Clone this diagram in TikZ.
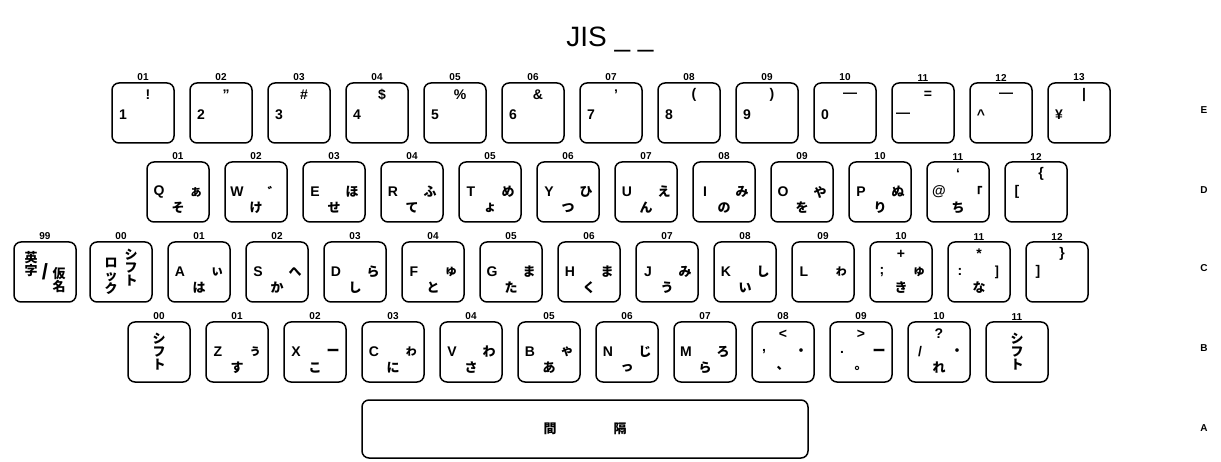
\documentclass[tikz,border=0pt]{standalone}
\usepackage{fontspec}
\setmainfont{Liberation Sans}
\newfontfamily\jp{Noto Sans CJK JP}
\usepackage{tikz}

\tikzset{
  keycap/.style={draw, line width=1.5pt, rounded corners=7pt, minimum width=62pt, minimum height=60pt, inner sep=0pt},
  keynum/.style={font=\bfseries\fontsize{10}{10}\selectfont, inner sep=1pt, above},
  lat/.style={font=\bfseries\fontsize{14}{14}\selectfont, inner sep=0pt},
  kana/.style={font=\jp\bfseries\fontsize{13}{13}\selectfont, inner sep=0pt},
  rowname/.style={font=\bfseries\fontsize{10}{10}\selectfont},
}

\begin{document}
\begin{tikzpicture}[x=1pt, y=-1pt]
\useasboundingbox (0,0) rectangle (1221,462);

\node [font=\fontsize{28}{28}\selectfont] (title) at (610,40) {JIS \_ \_};

% row E
\foreach \n/\l/\s [count=\i] in {01/1/!, 02/2/", 03/3/\#, 04/4/\$, 05/5/\%, 06/6/\&, 07/7/', 08/8/(, 09/9/), 10/0/—, 11/—/=, 12/\^{}/—, 13/¥/|} {
  \node [keycap] (E\n) at ({143+78*(\i-1)}, 113) {};
  \node [keynum] at (E\n.north) {\n};
  \node [lat] at ([xshift=-20pt, yshift=-2pt]E\n.center) {\l};
  \node [lat] at ([xshift=5pt, yshift=18pt]E\n.center) {\s};
}

% row D
\foreach \n/\l/\r/\b [count=\i] in {01/Q/ぁ/そ, 02/W/゛/け, 03/E/ほ/せ, 04/R/ふ/て, 05/T/め/ょ, 06/Y/ひ/つ, 07/U/え/ん, 08/I/み/の, 09/O/や/を, 10/P/ぬ/り, 11/@/「/ち, 12/[/{}/{}} {
  \node [keycap] (D\n) at ({178+78*(\i-1)}, 192) {};
  \node [keynum] at (D\n.north) {\n};
  \node [lat] at ([xshift=-19pt]D\n.center) {\l};
  \node [kana] at ([xshift=18pt]D\n.center) {\r};
  \node [kana] at ([yshift=-16pt]D\n.center) {\b};
}
\node [lat] at ([yshift=18pt]D11.center) {`};
\node [lat] at ([xshift=5pt, yshift=18pt]D12.center) {\{};

% row C
\node [keycap] (C99) at (45, 272) {};
\node [keynum] at (C99.north) {99};
\node [kana, align=center] at ([xshift=-14pt, yshift=8pt]C99.center) {英\\字};
\node [kana, align=center] at ([xshift=14pt, yshift=-8pt]C99.center) {仮\\名};
\node [font=\bfseries\fontsize{22}{22}\selectfont, inner sep=0pt] at (C99.center) {/};
\node [keycap] (C00) at (121, 272) {};
\node [keynum] at (C00.north) {00};
\node [kana, align=center] at ([xshift=10pt, yshift=4pt]C00.center) {シ\\フ\\ト};
\node [kana, align=center] at ([xshift=-10pt, yshift=-4pt]C00.center) {ロ\\ッ\\ク};
\foreach \n/\l/\r/\b [count=\i] in {01/A/ぃ/は, 02/S/へ/か, 03/D/ら/し, 04/F/ゅ/と, 05/G/ま/た, 06/H/ま/く, 07/J/み/う, 08/K/し/い, 09/L/ゎ/{}, 10/;/ゅ/き, 11/:/]/な, 12/]/{}/{}} {
  \node [keycap] (C\n) at ({199+78*(\i-1)}, 272) {};
  \node [keynum] at (C\n.north) {\n};
  \node [lat] at ([xshift=-19pt]C\n.center) {\l};
  \node [kana] at ([xshift=18pt]C\n.center) {\r};
  \node [kana] at ([yshift=-16pt]C\n.center) {\b};
}
\node [lat] at ([yshift=18pt]C10.center) {+};
\node [lat] at ([yshift=18pt]C11.center) {*};
\node [lat] at ([xshift=5pt, yshift=18pt]C12.center) {\}};

% row B
\node [keycap] (B00) at (159, 352) {};
\node [keynum] at (B00.north) {00};
\node [kana, align=center] at (B00.center) {シ\\フ\\ト};
\foreach \n/\l/\r/\b [count=\i] in {01/Z/ぅ/す, 02/X/ー/こ, 03/C/ゎ/に, 04/V/わ/さ, 05/B/ゃ/あ, 06/N/じ/っ, 07/M/ろ/ら, 08/{,}/・/、, 09/./ー/。, 10/{/}/・/れ} {
  \node [keycap] (B\n) at ({159+78*\i}, 352) {};
  \node [keynum] at (B\n.north) {\n};
  \node [lat] at ([xshift=-19pt]B\n.center) {\l};
  \node [kana] at ([xshift=18pt]B\n.center) {\r};
  \node [kana] at ([yshift=-16pt]B\n.center) {\b};
}
\node [lat] at ([yshift=18pt]B08.center) {<};
\node [lat] at ([yshift=18pt]B09.center) {>};
\node [lat] at ([yshift=18pt]B10.center) {?};
\node [keycap] (B11) at (1017, 352) {};
\node [keynum] at (B11.north) {11};
\node [kana, align=center] at (B11.center) {シ\\フ\\ト};

% row A
\node [keycap, minimum width=446pt, minimum height=58pt] (A) at (585, 429) {};
\node [kana] at ([xshift=-35pt]A.center) {間};
\node [kana] at ([xshift=35pt]A.center) {隔};

% row names
\foreach \r/\y in {E/110, D/190, C/268, B/348, A/428}
  \node [rowname] (row\r) at (1204, \y) {\r};

\end{tikzpicture}
\end{document}
